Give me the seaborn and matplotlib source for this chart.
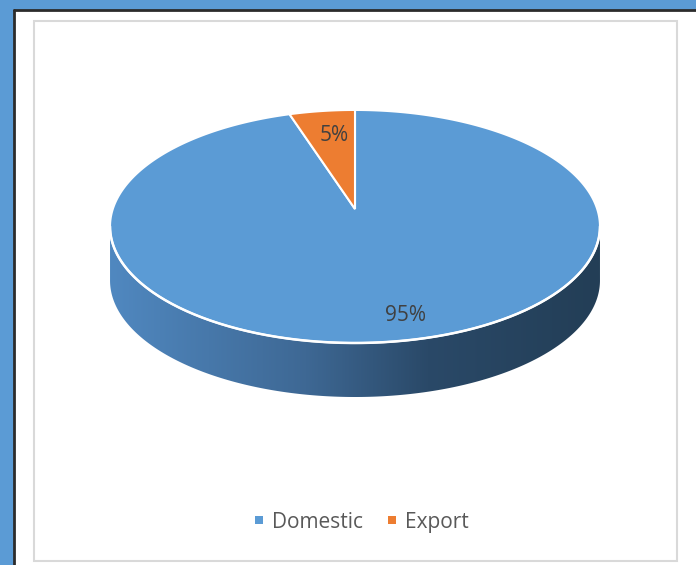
import numpy as np
import matplotlib
matplotlib.use("Agg")
import matplotlib.pyplot as plt
from matplotlib.patches import Polygon, Rectangle
from matplotlib.colors import LinearSegmentedColormap
import seaborn as sns

# ---- data ----
categories = ["Domestic", "Export"]
values = [95, 5]
label_texts = ["95%", "5%"]
colors = ["#5B9BD5", "#ED7D31"]

sns.set_theme(style="white")
plt.rcParams["font.family"] = ["Open Sans", "DejaVu Sans"]

W, H = 696, 565
fig = plt.figure(figsize=(W / 100, H / 100), dpi=100)
ax = fig.add_axes([0, 0, 1, 1])
ax.set_xlim(0, W)
ax.set_ylim(H, 0)
ax.axis("off")

# background frame
ax.add_patch(Rectangle((0, 0), W, H, facecolor="#5B9BD5", edgecolor="none", zorder=0))
ax.add_patch(Rectangle((14, 10), W, H, facecolor="white", edgecolor="none", zorder=0.5))
ax.plot([14, 14], [10, H], color="#2b2b2b", lw=2, zorder=1)
ax.plot([14, W], [10, 10], color="#2b2b2b", lw=2, zorder=1)
ax.add_patch(Rectangle((34, 21), 643, 540, facecolor="none", edgecolor="#D9D9D9", lw=1.5, zorder=1))

# perspective pie geometry
cx, cy = 355.0, 209.0
k = 0.150
s = 242.2
t = 113.9
depth = 54.0


def proj(theta_deg, r=1.0):
    th = np.radians(theta_deg)
    u = r * np.cos(th)
    v = -r * np.sin(th)
    den = 1 - k * v
    return cx + s * u / den, cy + t * v / den


# side of cylinder (front half)
a0 = 180 + np.degrees(np.arcsin(k))
a1 = 360 - np.degrees(np.arcsin(k))
ths = np.linspace(a0, a1, 300)
top = np.array([proj(a) for a in ths])
bot = top.copy()
bot[:, 1] += depth
side = np.vstack([top, bot[::-1]])
side_patch = Polygon(side, closed=True, facecolor="none", edgecolor="none", zorder=2)
ax.add_patch(side_patch)
cmap = LinearSegmentedColormap.from_list(
    "side",
    [(0.0, (80/255, 136/255, 192/255)), (0.4, (62/255, 104/255, 148/255)),
     (0.65, (42/255, 73/255, 104/255)), (1.0, (35/255, 62/255, 86/255))])
xmin, xmax = side[:, 0].min(), side[:, 0].max()
ymin, ymax = side[:, 1].min(), side[:, 1].max()
grad = np.linspace(0, 1, 256)[None, :]
im = ax.imshow(grad, extent=[xmin, xmax, ymax, ymin], cmap=cmap, aspect="auto", zorder=2)
im.set_clip_path(side_patch)

# top face wedges (clockwise from 12 o'clock)
total = float(sum(values))
start = 90.0
mids = []
for val, col in zip(values, colors):
    sweep = 360.0 * val / total
    end = start - sweep
    angs = np.linspace(start, end, max(int(sweep * 2), 10))
    pts = [proj(a) for a in angs]
    pts = [(cx, cy)] + pts
    ax.add_patch(Polygon(pts, closed=True, facecolor=col, edgecolor="white", lw=1.5,
                         joinstyle="miter", zorder=3))
    mids.append((start + end) / 2)
    start = end

# white rim on front edge
ax.plot(top[:, 0], top[:, 1], color="white", lw=1.8, zorder=4)

# data labels
label_r = [0.80, 0.75]
label_off = [(16, 4), (5, 2)]
for txt, m, r, (dx, dy) in zip(label_texts, mids, label_r, label_off):
    x, y = proj(m, r)
    ax.text(x + dx, y + dy, txt, ha="center", va="center", fontsize=15, color="#404040", zorder=5)

# legend
leg_y = 520
base_y = 528
ax.scatter([259], [leg_y], marker="s", s=28, color=colors[0], zorder=5, linewidths=0)
ax.text(272, base_y, categories[0], ha="left", va="baseline", fontsize=15, color="#595959")
ax.scatter([392], [leg_y], marker="s", s=28, color=colors[1], zorder=5, linewidths=0)
ax.text(405, base_y, categories[1], ha="left", va="baseline", fontsize=15, color="#595959")

fig.savefig("out.png", dpi=100)
